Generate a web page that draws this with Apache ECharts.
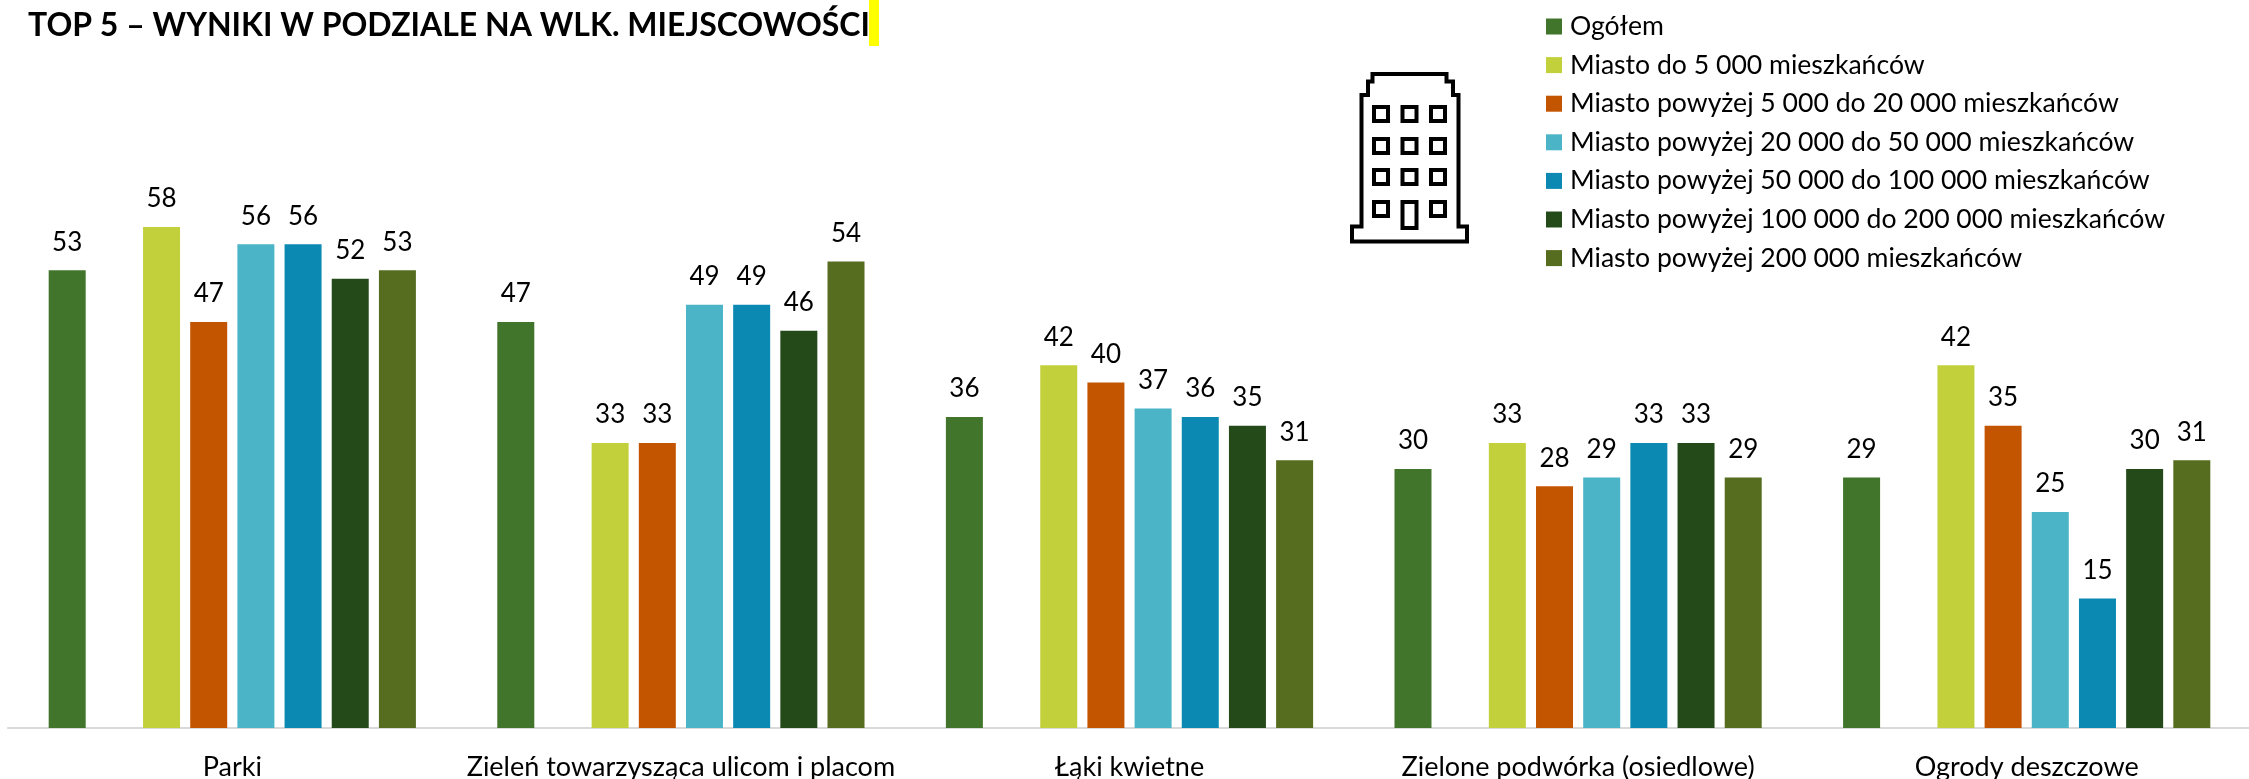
<!DOCTYPE html>
<html><head><meta charset="utf-8">
<style>html,body{margin:0;padding:0;background:#fff}#c{width:2249px;height:779px}</style>
<script src="https://cdn.jsdelivr.net/npm/echarts@6/dist/echarts.min.js"></script>
</head><body><div id="c"></div>
<script>
const titleText = 'TOP 5 – WYNIKI W PODZIALE NA WLK. MIEJSCOWOŚCI';
const categories = ['Parki','Zieleń towarzysząca ulicom i placom','Łąki kwietne','Zielone podwórka (osiedlowe)','Ogrody deszczowe'];
const ogolem = [53,47,36,30,29];
const do5k = [58,33,42,33,42];
const od5do20k = [47,33,40,28,35];
const od20do50k = [56,49,37,29,25];
const od50do100k = [56,49,36,33,15];
const od100do200k = [52,46,35,33,30];
const pow200k = [53,54,31,29,31];
const seriesNames = ['Ogółem','Miasto do 5 000 mieszkańców','Miasto powyżej 5 000 do 20 000 mieszkańców','Miasto powyżej 20 000 do 50 000 mieszkańców','Miasto powyżej 50 000 do 100 000 mieszkańców','Miasto powyżej 100 000 do 200 000 mieszkańców','Miasto powyżej 200 000 mieszkańców'];
const seriesValues = [ogolem,do5k,od5do20k,od20do50k,od50do100k,od100do200k,pow200k];
const colors = ['#41752B','#C2D13B','#C35500','#4BB5C7','#0B89B3','#254A1A','#566D20'];
const font = 'Lato, Carlito, Calibri, sans-serif';
const chart = echarts.init(document.getElementById('c'),null,{renderer:'canvas'});
const bar = (name,data,color)=>({name,type:'bar',data,barWidth:37,barGap:'27.5%',itemStyle:{color},
  label:{show:true,position:'top',distance:15,fontSize:26,fontFamily:font,color:'#000'}});
const series = seriesNames.map((n,i)=>bar(n,seriesValues[i],colors[i]));
series.splice(1,0,{name:'spacer',type:'bar',data:[],barWidth:37,barGap:'27.5%'});
const W = 'rgba(0,0,0,0)';
const winX=[1374,1402.5,1431], winY=[107,139,170,202];
const icon=[{type:'polygon',shape:{points:[[1352,241.5],[1352,226.5],[1361.5,226.5],[1361.5,95],[1368,95],[1368,81.5],[1372.5,81.5],[1372.5,74],[1446.5,74],[1446.5,81.5],[1453,81.5],[1453,95],[1458.5,95],[1458.5,226.5],[1467,226.5],[1467,241.5]]},style:{fill:W,stroke:'#000',lineWidth:4}}];
winY.forEach((y,r)=>winX.forEach((x,c)=>{
  const door=r===3&&c===1;
  icon.push({type:'rect',shape:{x,y,width:14,height:door?26:14},style:{fill:W,stroke:'#000',lineWidth:4}});
}));
chart.setOption({
  animation:false,backgroundColor:'#fff',
  title:{text:titleText,left:23,top:5,textStyle:{fontFamily:font,fontWeight:'bold',fontSize:32,color:'#000'}},
  legend:{data:seriesNames,orient:'vertical',left:1541,top:8,itemWidth:16,itemHeight:16,itemGap:11.6,icon:'rect',
    textStyle:{fontFamily:font,fontSize:26.6,lineHeight:25,color:'#000',padding:[0,0,0,3]},itemStyle:{borderWidth:0}},
  grid:{left:8,top:37,width:2243,height:691,containLabel:false,outerBoundsMode:'none'},
  xAxis:{type:'category',data:categories,axisTick:{show:false},axisLine:{lineStyle:{color:'#d9d9d9',width:2}},
    axisLabel:{interval:0,margin:26,fontSize:27,fontFamily:font,color:'#000'}},
  yAxis:{type:'value',min:0,max:80,show:false,splitLine:{show:false}},
  series,
  graphic:[{type:'rect',shape:{x:869,y:0,width:10,height:46},style:{fill:'#FFFF00'},silent:true}].concat(icon.map(o=>Object.assign(o,{silent:true})))
});
</script></body></html>
